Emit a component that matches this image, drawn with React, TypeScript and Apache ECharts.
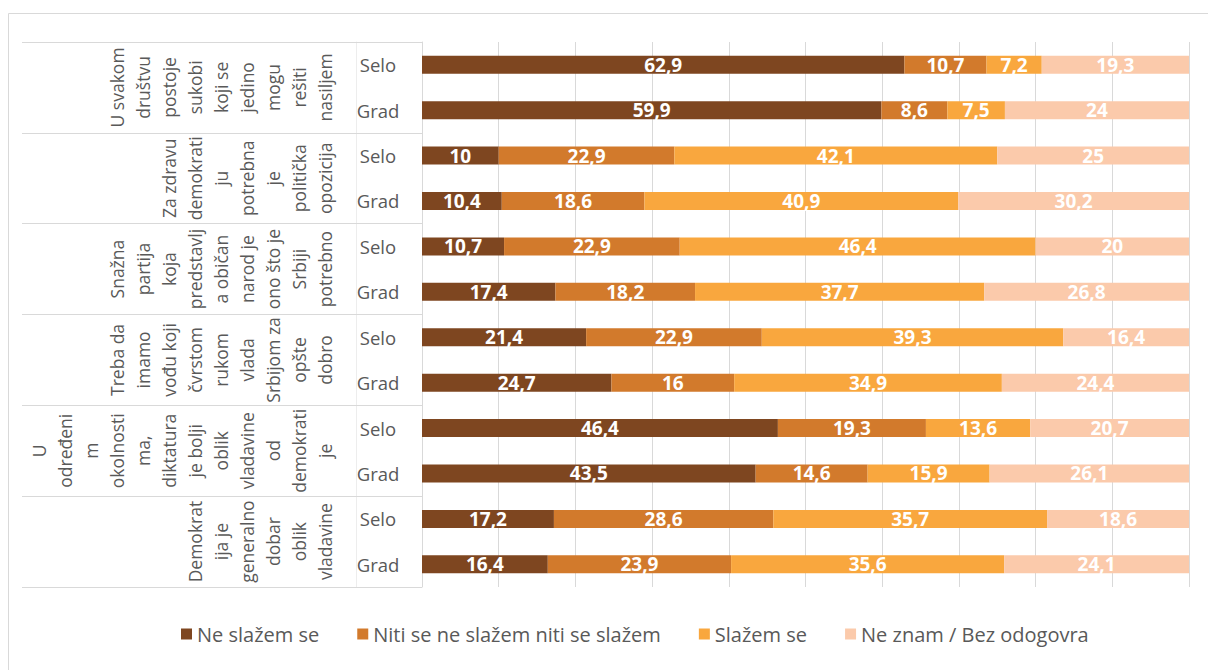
import React, { useEffect, useRef } from "react";
import * as echarts from "echarts";

// Statements (wrapped as in the reference), top to bottom
const statementLines: string[][] = [
  ["U svakom", "društvu", "postoje", "sukobi", "koji se", "jedino", "mogu", "rešiti", "nasiljem"],
  ["Za zdravu", "demokrati", "ju", "potrebna", "je", "politička", "opozicija"],
  ["Snažna", "partija", "koja", "predstavlj", "a običan", "narod je", "ono što je", "Srbiji", "potrebno"],
  ["Treba da", "imamo", "vođu koji", "čvrstom", "rukom", "vlada", "Srbijom za", "opšte", "dobro"],
  ["U", "određeni", "m", "okolnosti", "ma,", "diktatura", "je bolji", "oblik", "vladavine", "od", "demokrati", "je"],
  ["Demokrat", "ija je", "generalno", "dobar", "oblik", "vladavine"],
];
const places = ["Selo", "Grad"];
const seriesNames = ["Ne slažem se", "Niti se ne slažem niti se slažem", "Slažem se", "Ne znam / Bez odogovra"];

// Values per row (statement 1 Selo, statement 1 Grad, statement 2 Selo, ...)
const neSlazem = [62.9, 59.9, 10, 10.4, 10.7, 17.4, 21.4, 24.7, 46.4, 43.5, 17.2, 16.4];
const niti = [10.7, 8.6, 22.9, 18.6, 22.9, 18.2, 22.9, 16, 19.3, 14.6, 28.6, 23.9];
const slazem = [7.2, 7.5, 42.1, 40.9, 46.4, 37.7, 39.3, 34.9, 13.6, 15.9, 35.7, 35.6];
const neZnam = [19.3, 24, 25, 30.2, 20, 26.8, 16.4, 24.4, 20.7, 26.1, 18.6, 24.1];

const colors = ["#7E4620", "#D27A2C", "#F9A73E", "#FBCAAB"];

export default function App() {
  const ref = useRef<HTMLDivElement>(null);
  useEffect(() => {
    if (!ref.current) return;
    const chart = echarts.init(ref.current, null, { renderer: "svg" });
    const groupKeys = statementLines.map((l) => l.join("\n"));
    const rowKeys: string[] = [];
    statementLines.forEach((_, gi) => places.forEach((p) => rowKeys.push(gi + "|" + p)));
    const values = [neSlazem, niti, slazem, neZnam];
    const gray = "#595959";
    const lineCol = "#d9d9d9";
    chart.setOption({
      animation: false,
      color: colors,
      textStyle: { fontFamily: "Open Sans" },
      graphic: [
        {
          type: "rect",
          silent: true,
          z: -10,
          shape: { x: 8.5, y: 13.5, width: 1300, height: 700 },
          style: { fill: "none", stroke: lineCol, lineWidth: 1 },
        },
      ],
      grid: { left: 422, right: 19, top: 42, bottom: 83 },
      legend: {
        data: seriesNames,
        left: 176,
        top: 619,
        icon: "rect",
        itemWidth: 11,
        itemHeight: 11,
        itemGap: 38,
        textStyle: { color: gray, fontSize: 20, fontFamily: "Open Sans" },
      },
      xAxis: {
        type: "value",
        min: 0,
        max: 100,
        interval: 10,
        axisLabel: { show: false },
        axisLine: { show: false },
        axisTick: { show: false },
        splitLine: { show: true, lineStyle: { color: lineCol, width: 1 } },
      },
      yAxis: [
        {
          type: "category",
          inverse: true,
          data: rowKeys,
          axisLine: { show: true, lineStyle: { color: lineCol } },
          axisTick: { show: false },
          axisLabel: {
            interval: 0,
            formatter: (v: string) => v.split("|")[1],
            align: "center",
            margin: 44,
            color: gray,
            fontSize: 18.5,
            fontFamily: "Open Sans",
          },
        },
        {
          type: "category",
          inverse: true,
          position: "left",
          offset: 0,
          data: groupKeys,
          axisLine: { show: false },
          axisTick: { show: true, interval: 0, length: 400, lineStyle: { color: lineCol } },
          axisLabel: {
            interval: 0,
            rotate: 90,
            align: "center",
            verticalAlign: "bottom",
            margin: 84,
            lineHeight: 26,
            color: gray,
            fontSize: 17.5,
            fontFamily: "Open Sans",
          },
        },
        {
          type: "category",
          inverse: true,
          position: "left",
          offset: 66,
          data: groupKeys,
          axisLine: { show: true, lineStyle: { color: "#ededed" } },
          axisTick: { show: false },
          axisLabel: { show: false },
        },
      ],
      series: seriesNames.map((name, i) => ({
        name,
        type: "bar",
        stack: "total",
        yAxisIndex: 0,
        barWidth: 18,
        data: values[i],
        label: {
          show: true,
          position: "inside",
          color: "#ffffff",
          fontWeight: "bold",
          fontSize: 19,
          fontFamily: "Open Sans",
          formatter: (p: any) => String(p.value).replace(".", ","),
        },
      })),
    });
    return () => chart.dispose();
  }, []);
  return (
    <div
      ref={ref}
      style={{ position: "fixed", left: 0, top: 0, width: 1208, height: 670, background: "#fff" }}
    />
  );
}
